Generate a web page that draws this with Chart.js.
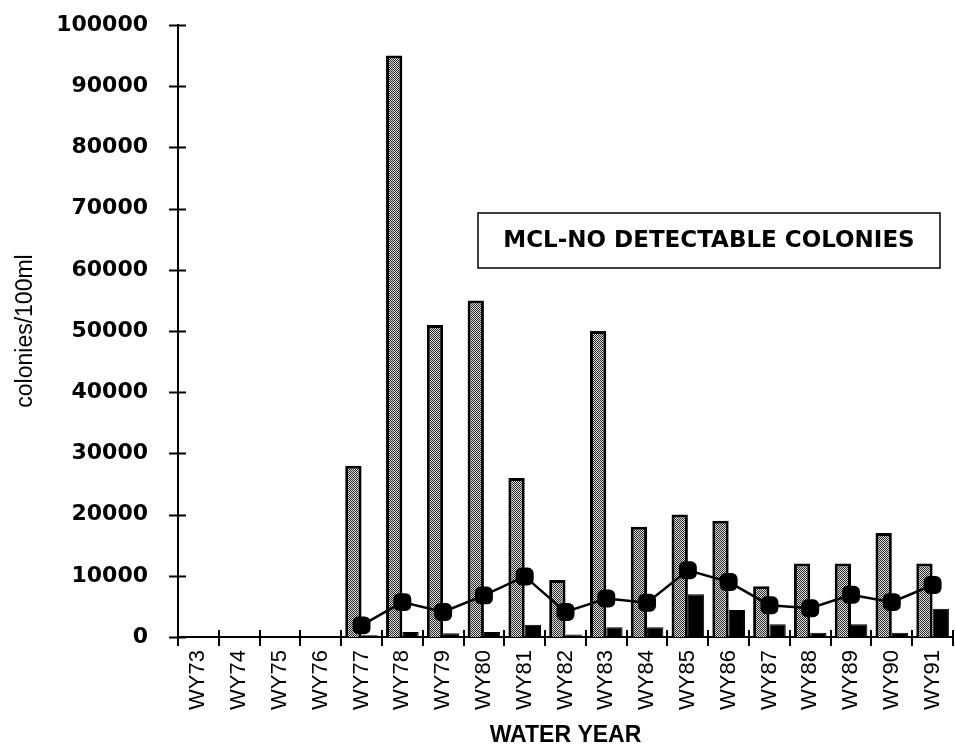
<!DOCTYPE html>
<html>
<head>
<meta charset="utf-8">
<script src="https://cdn.jsdelivr.net/npm/chart.js@4/dist/chart.umd.min.js"></script>
<style>
  html, body { margin: 0; padding: 0; background: #fff; }
  #wrap { width: 955px; height: 752px; }
</style>
</head>
<body>
<div id="wrap"><canvas id="c" width="955" height="752"></canvas></div>
<script>
// ---- data ----
const categories = ['WY73','WY74','WY75','WY76','WY77','WY78','WY79','WY80','WY81','WY82','WY83','WY84','WY85','WY86','WY87','WY88','WY89','WY90','WY91'];
const maxColonies  = [null, null, null, null, 28000, 95000, 51000, 55000, 26000, 9300, 50000, 18000, 20000, 19000, 8300, 12000, 12000, 17000, 12000];
const minColonies  = [null, null, null, null, 300, 800, 600, 800, 2000, 400, 1600, 1600, 7000, 4400, 2100, 700, 2100, 700, 4600];
const meanColonies = [null, null, null, null, 1900, 5700, 4100, 6800, 9900, 4100, 6300, 5600, 10900, 9000, 5200, 4700, 6900, 5700, 8500];
const yTicks = [0, 10000, 20000, 30000, 40000, 50000, 60000, 70000, 80000, 90000, 100000];
const yAxisTitle = 'colonies/100ml';
const xAxisTitle = 'WATER YEAR';
const noteText = 'MCL-NO DETECTABLE COLONIES';

// stipple pattern
function makePattern() {
  const p = document.createElement('canvas');
  p.width = 4; p.height = 4;
  const g = p.getContext('2d');
  g.fillStyle = '#dcdcdc';
  g.fillRect(0, 0, 4, 4);
  g.fillStyle = '#2a2a2a';
  const dots = [[0,0],[2,0],[1,1],[3,1],[0,2],[2,2],[1,3],[3,3]];
  dots.forEach(([x,y]) => g.fillRect(x, y, 1, 1));
  return g.createPattern(p, 'repeat');
}
const stipple = makePattern();

const crossTicks = {
  id: 'crossTicks',
  afterDraw(chart) {
    const ctx = chart.ctx;
    const y = chart.scales.y, x = chart.scales.x;
    const area = chart.chartArea;
    ctx.save();
    ctx.strokeStyle = '#000';
    ctx.lineWidth = 2;
    yTicks.forEach(v => {
      const py = Math.round(y.getPixelForValue(v)) + 0.5;
      ctx.beginPath();
      ctx.moveTo(area.left - 9, py);
      ctx.lineTo(area.left + 8, py);
      ctx.stroke();
    });
    const n = categories.length;
    for (let i = 0; i <= n; i++) {
      let px;
      if (i === 0) px = area.left;
      else if (i === n) px = area.right;
      else px = (x.getPixelForValue(i - 1) + x.getPixelForValue(i)) / 2;
      px = Math.round(px);
      ctx.beginPath();
      ctx.moveTo(px, area.bottom - 7);
      ctx.lineTo(px, area.bottom + 9);
      ctx.stroke();
    }
    // note box
    const bx = 478, by = 213, bw = 462, bh = 55;
    ctx.lineWidth = 1.5;
    ctx.fillStyle = '#fff';
    ctx.fillRect(bx, by, bw, bh);
    ctx.strokeRect(bx, by, bw, bh);
    ctx.fillStyle = '#000';
    ctx.font = 'bold 23px "DejaVu Sans"';
    ctx.textAlign = 'center';
    ctx.textBaseline = 'middle';
    ctx.fillText(noteText, bx + bw / 2, by + bh / 2 + 1);
    ctx.restore();
  }
};

new Chart(document.getElementById('c'), {
  type: 'bar',
  data: {
    labels: categories,
    datasets: [
      {
        label: 'Maximum',
        data: maxColonies,
        backgroundColor: stipple,
        borderColor: '#000',
        borderWidth: 3,
        categoryPercentage: 0.8,
        barPercentage: 1.0,
        order: 2
      },
      {
        label: 'Minimum',
        data: minColonies,
        backgroundColor: '#000',
        borderColor: '#000',
        borderWidth: 1,
        categoryPercentage: 0.8,
        barPercentage: 1.0,
        order: 2
      },
      {
        type: 'line',
        label: 'Mean',
        data: meanColonies,
        borderColor: '#000',
        borderWidth: 2.5,
        backgroundColor: '#000',
        pointStyle: 'rectRounded',
        pointRadius: 9,
        pointBackgroundColor: '#000',
        pointBorderColor: '#000',
        tension: 0,
        clip: false,
        order: 0
      }
    ]
  },
  options: {
    responsive: false,
    animation: false,
    devicePixelRatio: 1,
    layout: { autoPadding: false, padding: { top: 25, right: 2, left: 0, bottom: 0 } },
    plugins: {
      legend: { display: false },
      tooltip: { enabled: false }
    },
    scales: {
      x: {
        offset: true,
        grid: { display: false, drawTicks: false },
        border: { display: true, color: '#000', width: 2 },
        ticks: {
          color: '#000',
          font: { family: '"Liberation Sans", Arial', size: 22 },
          minRotation: 90, maxRotation: 90,
          padding: 13,
          autoSkip: false
        },
        title: {
          display: true,
          text: xAxisTitle,
          color: '#000',
          font: { family: '"Liberation Sans Narrow", "Liberation Sans"', size: 23, weight: 'bold' },
          padding: { top: 0, bottom: 3 }
        },
        afterFit(s) { s.height = 115; s.paddingRight = 0; s.paddingLeft = 0; }
      },
      y: {
        min: 0, max: 100000,
        afterBuildTicks(s) { s.ticks = yTicks.map(v => ({ value: v })); },
        grid: { display: false, drawTicks: false },
        border: { display: true, color: '#000', width: 2 },
        ticks: {
          color: '#000',
          font: { family: '"DejaVu Sans"', size: 22, weight: 'bold' },
          padding: 30,
          callback: v => String(v)
        },
        title: {
          display: true,
          text: yAxisTitle,
          color: '#000',
          font: { family: '"Liberation Sans", Arial', size: 23 },
          padding: { top: 12, bottom: 0 }
        },
        afterFit(s) { s.width = 178; s.paddingTop = 0; s.paddingBottom = 0; }
      }
    }
  },
  plugins: [crossTicks]
});
</script>
</body>
</html>
